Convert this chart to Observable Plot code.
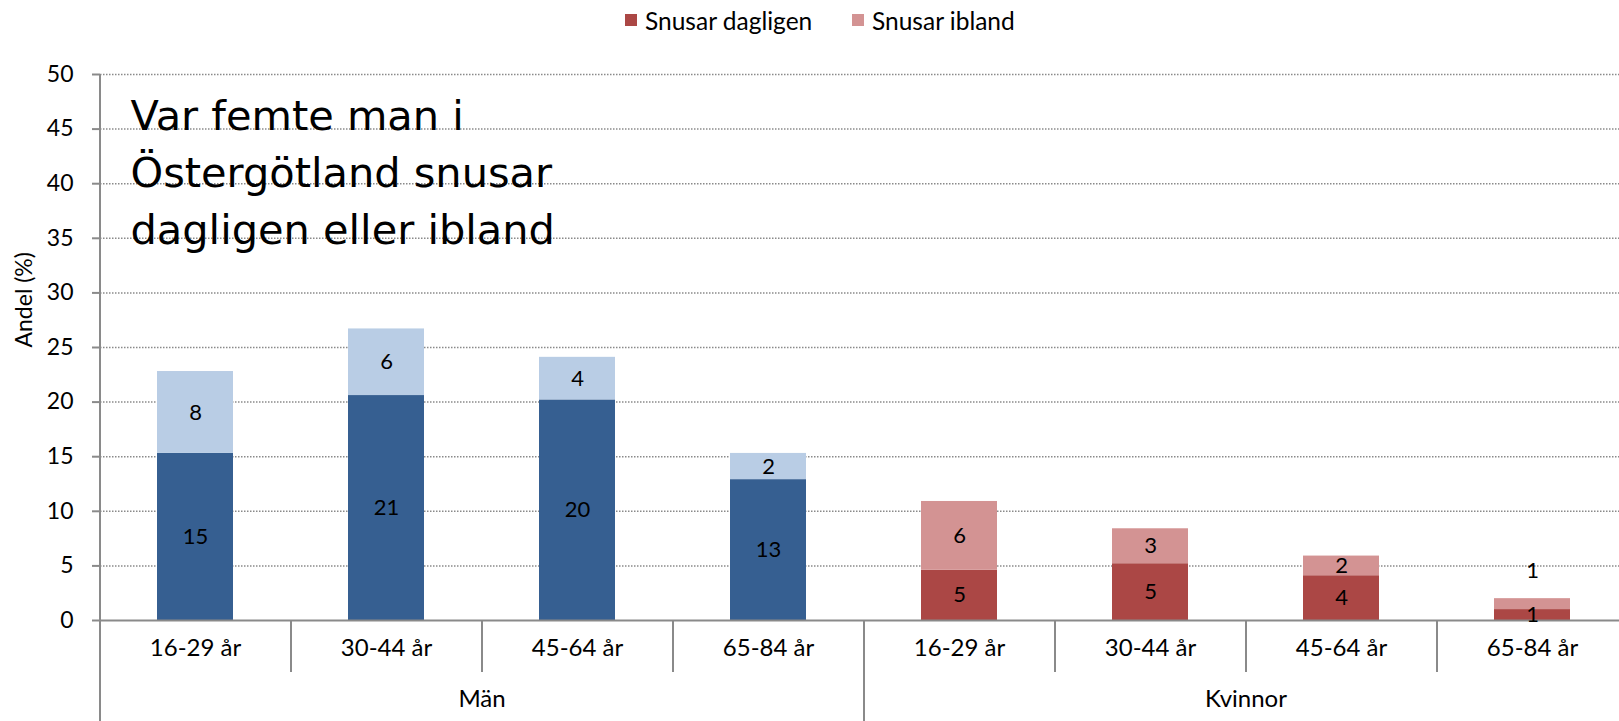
<!DOCTYPE html>
<html>
<head>
<meta charset="utf-8">
<script src="https://cdn.jsdelivr.net/npm/d3@7"></script>
<script src="https://cdn.jsdelivr.net/npm/@observablehq/plot@0.6"></script>
<style>
  html, body { margin: 0; padding: 0; background: #fff; }
  body { width: 1619px; height: 721px; overflow: hidden; font-family: Lato, sans-serif; }
  #legend { position: relative; height: 40px; width: 1619px; }
  #legend .item { position: absolute; top: 0; height: 40px; display: flex; align-items: center; font-size: 24.5px; color: #000; white-space: nowrap; }
  #legend .sw { width: 12px; height: 12px; margin-right: 8px; }
  #chart svg { display: block; }
</style>
</head>
<body>
<div id="legend"></div>
<div id="chart"></div>
<script>
// ---- data ----
const groups = ["Män", "Kvinnor"];
const ages = ["16-29 år", "30-44 år", "45-64 år", "65-84 år"];
const seriesNames = ["Snusar dagligen", "Snusar ibland"];
const dagligenMan = [15.3, 20.6, 20.2, 12.9];
const iblandMan = [7.5, 6.1, 3.9, 2.4];
const dagligenKvinnor = [4.6, 5.2, 4.1, 1.0];
const iblandKvinnor = [6.3, 3.2, 1.8, 1.0];
const yTicks = [0, 5, 10, 15, 20, 25, 30, 35, 40, 45, 50];
const titleLines = ["Var femte man i", "Östergötland snusar", "dagligen eller ibland"];
const yLabel = "Andel (%)";

// ---- colours ----
const colors = {
  "Män": {"Snusar dagligen": "#365f91", "Snusar ibland": "#b9cde5"},
  "Kvinnor": {"Snusar dagligen": "#ab4745", "Snusar ibland": "#d39393"}
};
const legendColors = colors["Kvinnor"];

// ---- build table ----
const values = {
  "Män": {"Snusar dagligen": dagligenMan, "Snusar ibland": iblandMan},
  "Kvinnor": {"Snusar dagligen": dagligenKvinnor, "Snusar ibland": iblandKvinnor}
};
const keys = [];
const cats = [];
const rows = [];
for (const g of groups) {
  ages.forEach((a, i) => {
    const key = g + "|" + a;
    keys.push(key);
    cats.push({key, group: g, age: a, index: i});
    let base = 0;
    seriesNames.forEach((s, si) => {
      const v = values[g][s][i];
      rows.push({key, group: g, age: a, series: s, top: si === seriesNames.length - 1,
                 value: v, y1: base, y2: base + v, fill: colors[g][s]});
      base += v;
    });
  });
}

// ---- legend ----
const legend = document.getElementById("legend");
const legendLeft = [625, 852];
seriesNames.forEach((s, i) => {
  const it = document.createElement("div");
  it.className = "item";
  it.style.left = legendLeft[i] + "px";
  it.innerHTML = `<span class="sw" style="background:${legendColors[s]}"></span><span>${s}</span>`;
  legend.appendChild(it);
});

// ---- layout ----
const W = 1619, H = 681;
const xRange = [100, 1628];
const step = (xRange[1] - xRange[0]) / keys.length;
const mTop = 34, mBottom = 101;
const frameH = H - mTop - mBottom;
const gridColor = "#8a8a8a";

const smallTop = d => d.top && d.value < 1.5;

const chart = Plot.plot({
  width: W,
  height: H,
  marginLeft: 100,
  marginRight: 0,
  marginTop: mTop,
  marginBottom: mBottom,
  style: {fontFamily: "Lato, sans-serif", color: "#000", background: "#fff"},
  x: {type: "band", domain: keys, range: xRange, paddingInner: 0.6, paddingOuter: 0.3, align: 0.5, axis: null},
  y: {domain: [0, 50], axis: null},
  color: {type: "identity"},
  marks: [
    Plot.ruleY(yTicks.filter(t => t > 0), {y: d => d, stroke: gridColor, strokeWidth: 1.5, strokeDasharray: "1.5,1.5"}),
    Plot.barY(rows, {x: "key", y1: "y1", y2: "y2", fill: "fill"}),
    Plot.ruleY([0], {stroke: gridColor, strokeWidth: 2}),
    // y axis line (extends through the category area)
    Plot.ruleX([keys[0]], {x: d => d, dx: -step / 2, stroke: gridColor, strokeWidth: 2, insetBottom: -mBottom}),
    // short separators between age categories
    Plot.ruleX(cats.filter(c => c.index > 0), {x: "key", dx: -step / 2, stroke: gridColor, strokeWidth: 2, insetTop: frameH, insetBottom: -52}),
    // long separators between groups
    Plot.ruleX(cats.filter(c => c.index === 0 && c.group !== groups[0]), {x: "key", dx: -step / 2, stroke: gridColor, strokeWidth: 2, insetTop: frameH, insetBottom: -mBottom}),
    Plot.axisY({ticks: yTicks, tickSize: 8, tickPadding: 19, fontSize: 23, stroke: gridColor, strokeWidth: 2, fill: "#000", label: null}),
    Plot.text([yLabel], {text: d => d, frameAnchor: "left", dx: -76, rotate: -90, fontSize: 23, fill: "#000"}),
    // data labels
    Plot.text(rows.filter(d => !smallTop(d)), {x: "key", y: d => (d.y1 + d.y2) / 2, text: d => d3.format(".0f")(d.value), fontSize: 22, fill: "#000"}),
    Plot.text(rows.filter(smallTop), {x: "key", y: "y2", dy: -28, text: d => d3.format(".0f")(d.value), fontSize: 22, fill: "#000"}),
    // category labels
    Plot.text(cats, {x: "key", text: "age", frameAnchor: "bottom", dy: 35, fontSize: 24, fill: "#000"}),
    // group labels
    Plot.text(groups, {x: g => g + "|" + ages[1], dx: step / 2, text: d => d, frameAnchor: "bottom", dy: 86, fontSize: 24, fill: "#000"}),
    // in-chart title
    Plot.text([titleLines.join("\n")], {text: d => d, frameAnchor: "top-left", dx: 30, dy: 94, textAnchor: "start", lineAnchor: "middle", lineHeight: 1.375, fontSize: 41.5, fontFamily: "DejaVu Sans", fill: "#000"})
  ]
});
document.getElementById("chart").appendChild(chart);
</script>
</body>
</html>
